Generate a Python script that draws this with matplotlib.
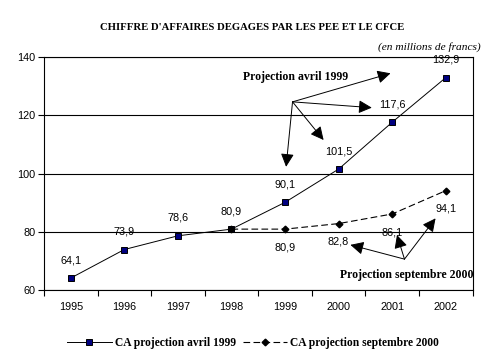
import matplotlib
matplotlib.use("Agg")
import matplotlib.pyplot as plt

# ------------------------------------------------------------------------------------------------------------------
years = ["1995", "1996", "1997", "1998", "1999", "2000", "2001", "2002"]
ca_avril_1999 = [64.1, 73.9, 78.6, 80.9, 90.1, 101.5, 117.6, 132.9]
sept_years = ["1998", "1999", "2000", "2001", "2002"]
ca_sept_2000 = [80.9, 80.9, 82.8, 86.1, 94.1]

# annotation arrows (data coords: category index, value)
avril_origin = (4.14, 124.6)
avril_tips = [(5.97, 134.4), (5.62, 122.6), (4.72, 111.5), (4.02, 102.3)]
sept_origin = (6.23, 70.6)
sept_tips = [(5.22, 75.5), (6.09, 78.9), (6.81, 84.6)]

serif = "Liberation Serif"
sans = "Liberation Sans"
num_size = 7.8

# ------------------------------------------------------------------------------------------------------------------
fig = plt.figure(figsize=(4.91, 3.56), dpi=100)
ax = fig.add_axes([44 / 491, 1 - 290 / 356, (472.5 - 44) / 491, (290 - 57) / 356])

x1 = list(range(len(years)))
x2 = [years.index(y) for y in sept_years]

ax.plot(x1, ca_avril_1999, color="black", lw=0.7, marker="s", ms=4.4,
        markerfacecolor="#000080", markeredgecolor="black", markeredgewidth=0.7,
        label="CA projection avril 1999", zorder=3)
ax.plot(x2, ca_sept_2000, color="black", lw=0.8, dashes=(6, 3), marker="D", ms=3.4,
        markerfacecolor="black", markeredgecolor="black",
        label="CA projection septembre 2000", zorder=3)

for i, v in zip(x1, ca_avril_1999):
    ax.annotate(f"{v:.1f}".replace(".", ","), (i, v), xytext=(0, 13), textcoords="offset points",
                ha="center", va="center", fontsize=num_size, family=sans, annotation_clip=False)

for i, v in zip(x2[1:], ca_sept_2000[1:]):
    ax.annotate(f"{v:.1f}".replace(".", ","), (i, v), xytext=(0, -13), textcoords="offset points",
                ha="center", va="center", fontsize=num_size, family=sans)

arrow = dict(arrowstyle="-|>,head_length=0.8,head_width=0.4", color="black", lw=0.7,
             shrinkA=0, shrinkB=0)
for tip in avril_tips:
    ax.annotate("", xy=tip, xytext=avril_origin, arrowprops=arrow)
for tip in sept_tips:
    ax.annotate("", xy=tip, xytext=sept_origin, arrowprops=arrow)

ax.text(4.19, 133.2, "Projection avril 1999", ha="center", va="center", fontsize=8.5,
        family=serif, weight="bold")
ax.text(6.27, 65.2, "Projection septembre 2000", ha="center", va="center", fontsize=8.5,
        family=serif, weight="bold", clip_on=False)

ax.set_xlim(-0.5, 7.5)
ax.set_ylim(60, 140)
ax.set_yticks([60, 80, 100, 120, 140])
ax.set_xticks(x1)
ax.set_xticklabels(years)
ax.set_xticks([i - 0.5 for i in range(len(years) + 1)], minor=True)
ax.tick_params(axis="x", which="major", length=0, pad=9, labelsize=num_size)
ax.tick_params(axis="x", which="minor", length=4, width=0.8, direction="out")
ax.tick_params(axis="y", length=4, width=0.8, direction="out", labelsize=num_size, pad=2)
for lab in ax.get_xticklabels() + ax.get_yticklabels():
    lab.set_family(sans)
ax.grid(axis="y", color="black", lw=0.8)
for s in ax.spines.values():
    s.set_linewidth(0.8)

fig.text(252 / 491, 1 - 27 / 356, "CHIFFRE D'AFFAIRES DEGAGES PAR LES PEE ET LE CFCE",
         ha="center", va="center", fontsize=7.7, family=serif, weight="bold")
fig.text(481 / 491, 1 - 47 / 356, "(en millions de francs)", ha="right", va="center",
         fontsize=8.2, family=serif, style="italic")

fig.legend(loc="center", bbox_to_anchor=(253 / 491, 1 - 343 / 356), ncol=2, frameon=False,
           prop=dict(family=serif, weight="bold", size=8.3), handlelength=3.9,
           handletextpad=0.25, columnspacing=0.6, borderpad=0)

fig.savefig("out.png", dpi=100)
